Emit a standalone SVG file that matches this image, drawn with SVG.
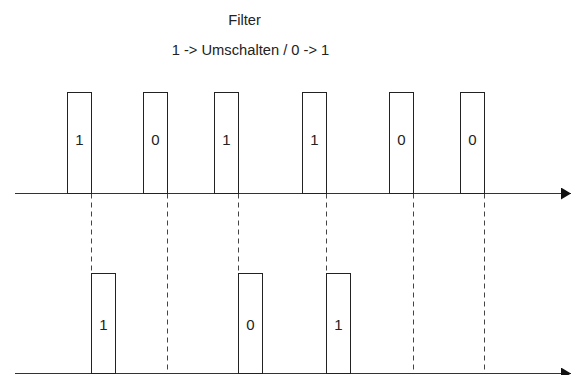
<svg xmlns="http://www.w3.org/2000/svg" width="572" height="375" viewBox="0 0 572 375">
<style>
.box{fill:#fff;stroke:#222;stroke-width:1}
.lbl{font-family:"Liberation Sans",Arial,sans-serif;font-size:15px;fill:#222;text-anchor:middle}
.ttl{font-family:"Liberation Sans",Arial,sans-serif;font-size:14.7px;fill:#222;text-anchor:middle}
.axis{stroke:#333;stroke-width:1;fill:none}
.dash{stroke:#444;stroke-width:1;stroke-dasharray:5,4;fill:none}
</style>
<defs>
<marker id="arr" markerWidth="10" markerHeight="12" refX="10" refY="6" orient="auto" markerUnits="userSpaceOnUse">
<path d="M0,0 L10,6 L0,12 Z" fill="#111"/>
</marker>
</defs>
<rect width="572" height="375" fill="#fff"/>
<text class="ttl" x="244.5" y="25">Filter</text>
<text class="ttl" x="250.5" y="55">1 -&gt; Umschalten / 0 -&gt; 1</text>
<g id="connectors">
<line class="dash" x1="91.5" y1="193.5" x2="91.5" y2="373"/>
<line class="dash" x1="167.5" y1="193.5" x2="167.5" y2="373"/>
<line class="dash" x1="238.5" y1="193.5" x2="238.5" y2="373"/>
<line class="dash" x1="326.5" y1="193.5" x2="326.5" y2="373"/>
<line class="dash" x1="413.5" y1="193.5" x2="413.5" y2="373"/>
<line class="dash" x1="484.5" y1="193.5" x2="484.5" y2="373"/>
<line class="axis" x1="15" y1="193.5" x2="571" y2="193.5" marker-end="url(#arr)"/>
<line class="axis" x1="15" y1="373.5" x2="571" y2="373.5" marker-end="url(#arr)"/>
</g>
<g id="t1"><rect class="box" x="67.5" y="92.5" width="24" height="101"/><text class="lbl" x="79.5" y="144.5">1</text></g>
<g id="t2"><rect class="box" x="143.5" y="92.5" width="24" height="101"/><text class="lbl" x="155.5" y="144.5">0</text></g>
<g id="t3"><rect class="box" x="214.5" y="92.5" width="24" height="101"/><text class="lbl" x="226.5" y="144.5">1</text></g>
<g id="t4"><rect class="box" x="302.5" y="92.5" width="24" height="101"/><text class="lbl" x="314.5" y="144.5">1</text></g>
<g id="t5"><rect class="box" x="389.5" y="92.5" width="24" height="101"/><text class="lbl" x="401.5" y="144.5">0</text></g>
<g id="t6"><rect class="box" x="460.5" y="92.5" width="24" height="101"/><text class="lbl" x="472.5" y="144.5">0</text></g>
<g id="b1"><rect class="box" x="91.5" y="273.5" width="24" height="100"/><text class="lbl" x="103.5" y="329.5">1</text></g>
<g id="b2"><rect class="box" x="238.5" y="273.5" width="24" height="100"/><text class="lbl" x="250.5" y="329.5">0</text></g>
<g id="b3"><rect class="box" x="326.5" y="273.5" width="24" height="100"/><text class="lbl" x="338.5" y="329.5">1</text></g>
</svg>
